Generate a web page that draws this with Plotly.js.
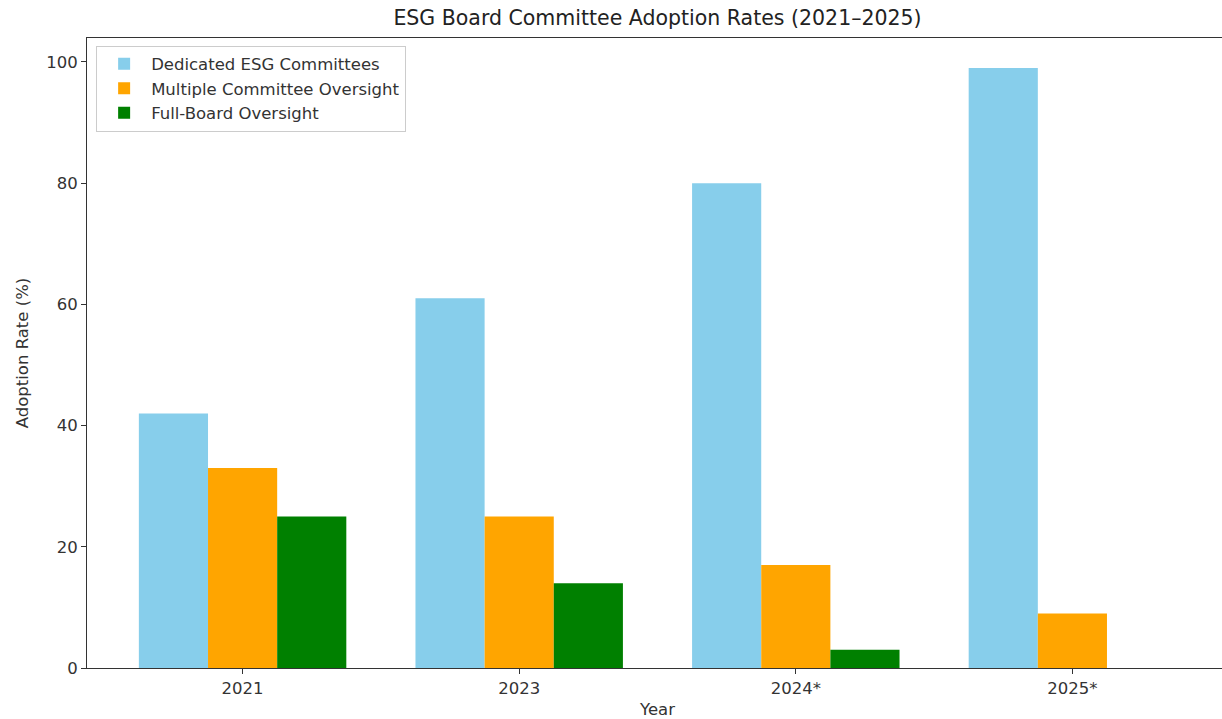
<!DOCTYPE html>
<html>
<head>
<meta charset="utf-8">
<script src="https://cdn.plot.ly/plotly-3.0.1.min.js"></script>
<style>html,body{margin:0;padding:0;background:#fff;overflow:hidden;}#chart{width:1228px;height:719px;}</style>
</head>
<body>
<div id="chart"></div>
<script>
const years = ["2021", "2023", "2024*", "2025*"];
const dedicated = [42, 61, 80, 99];
const multiple = [33, 25, 17, 9];
const fullBoard = [25, 14, 3, 0];

const seriesNames = ["Dedicated ESG Committees", "Multiple Committee Oversight", "Full-Board Oversight"];
const seriesColors = ["#87CEEB", "#FFA500", "#008000"];
const seriesValues = [dedicated, multiple, fullBoard];

const traces = seriesValues.map((vals, i) => ({
  type: "bar",
  x: years,
  y: vals,
  name: seriesNames[i],
  marker: {color: seriesColors[i], line: {width: 0}},
  hoverinfo: "x+y+name"
}));

const font = "DejaVu Sans, Liberation Sans, sans-serif";
const layout = {
  width: 1228,
  height: 719,
  margin: {l: 87, r: 0, t: 38, b: 51, pad: 0},
  paper_bgcolor: "#fff",
  plot_bgcolor: "#fff",
  font: {family: font, size: 16.5, color: "#333"},
  title: {text: "ESG Board Committee Adoption Rates (2021–2025)", font: {family: font, size: 20.5, color: "#222"}, x: 0.5, xref: "paper", xanchor: "center", y: 0.975, yanchor: "middle"},
  barmode: "group",
  bargap: 0.25,
  bargroupgap: 0,
  showlegend: true,
  legend: {x: 0.008, y: 0.988, xanchor: "left", yanchor: "top", bgcolor: "rgba(255,255,255,0.8)", bordercolor: "#cccccc", borderwidth: 1, font: {family: font, size: 16.5, color: "#333"}, tracegroupgap: 0, itemwidth: 44},
  xaxis: {
    type: "category",
    range: [-0.5625, 3.5625],
    showline: true, linecolor: "#333", linewidth: 1, mirror: true,
    ticks: "outside", ticklen: 5, tickcolor: "#333",
    showgrid: false, zeroline: false,
    tickfont: {family: font, size: 16.5, color: "#333"},
    title: {text: "Year", font: {family: font, size: 16.5, color: "#333"}, standoff: 8}
  },
  yaxis: {
    range: [0, 103.95],
    tickvals: [0, 20, 40, 60, 80, 100],
    showline: true, linecolor: "#333", linewidth: 1, mirror: true,
    ticks: "outside", ticklen: 5, tickcolor: "#333",
    showgrid: false, zeroline: false,
    tickfont: {family: font, size: 16.5, color: "#333"},
    title: {text: "Adoption Rate (%)", font: {family: font, size: 16.5, color: "#333"}, standoff: 13}
  }
};

Plotly.newPlot("chart", traces, layout, {displayModeBar: false, staticPlot: true});
</script>
</body>
</html>
